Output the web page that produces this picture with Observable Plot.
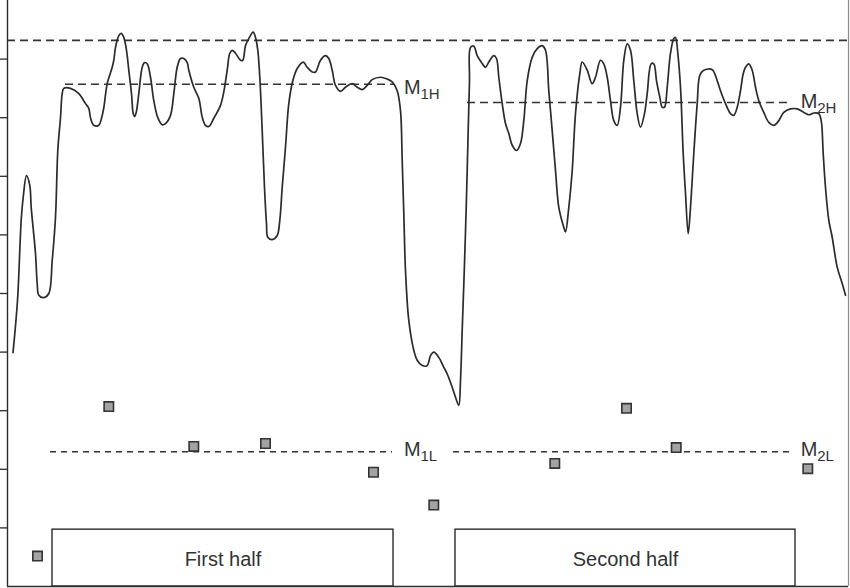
<!DOCTYPE html>
<html><head><meta charset="utf-8">
<script src="https://cdn.jsdelivr.net/npm/d3@7"></script>
<script src="https://cdn.jsdelivr.net/npm/@observablehq/plot@0.6"></script>
<style>body{margin:0;background:#fff}</style>
</head><body><div id="chart"></div>
<script>
// ---- data (time in arbitrary frames, level in axis units 0–10) ----
const curveTime = [
  5.5,10,13.7,15.7,19,22.3,23.7,28,29.7,31.3,
  36.3,41.3,44.7,48,50.3,53,54.7,56.3,63,71.3,
  78,81.3,83,86.3,91.3,94,96.3,99.7,104.7,106.3,
  108,111.3,113.7,116.3,119,121.3,124,125.7,127,128.7,
  131.3,134.7,137,139.7,143,146.3,150.3,154.7,158,163,
  166.3,169.7,173,176.3,179.7,181.3,186.3,191.3,194.7,198,
  201.3,206.3,213,216.3,219.7,222.3,224.7,228,233,235.3,
  238,241.3,245.7,248,250.3,252.3,254.7,257,259,260.3,
  264.7,269.7,272.3,274.7,278,281.3,285.3,289.7,295.7,299.7,
  304.7,308,313,318,321.3,324.7,328,333,338,344.7,
  349.7,354.7,359.7,364.7,373,379.7,384.7,389.7,393,394.7,
  396.3,398,401.3,406.3,409.7,414.7,419.7,423,426.3,431.3,
  436.3,439.7,444.7,448,451.3,453,454.7,457,459,460.7,
  462,463,466.3,469.7,473.7,478,481.3,486.3,489,491.3,
  494.7,498,501.3,504.7,509,513,516.3,519.7,524.7,529.7,
  534.7,538,541.3,544.7,548,551.3,556.3,558,561.3,564.7,
  568,572.3,574.7,579.7,584.7,588,593,596.3,599.7,603,
  606.3,609.7,613,616.3,619.7,623,626.3,629.7,633,637,
  639.7,643.7,646.3,649,652.3,654.7,657,659.7,663,666.3,
  668,670.3,673,675.7,678,680.7,683,686.3,689.7,692.3,
  696.3,704.7,709.7,713,718,723,726.3,729.7,733,735.7,
  738,741.3,744.7,748,751.3,756.3,761.3,766.3,771.3,776.3,
  783,789.7,796.3,801.3,806.3,811.3,813.7,815.7,818,821.3,
  824.7,829.7,834.7,838
];
const curveLevel = [
  3.99,4.88,6.25,6.64,7.01,6.84,6.47,5.68,5.17,4.97,
  4.93,5.00,5.56,6.30,7.44,8.00,8.41,8.50,8.50,8.41,
  8.24,8.16,8.00,7.87,7.87,7.99,8.17,8.58,8.86,8.98,
  9.20,9.40,9.44,9.37,9.15,8.81,8.41,8.07,8.02,8.09,
  8.41,8.86,8.94,8.92,8.69,8.29,8.00,7.88,7.90,8.04,
  8.41,8.86,9.01,9.01,8.94,8.81,8.52,8.33,8.01,7.87,
  7.85,7.99,8.21,8.44,8.81,9.10,9.15,9.10,8.98,8.98,
  9.23,9.35,9.46,9.37,9.15,8.69,7.78,6.81,6.19,5.96,
  5.92,5.99,6.25,6.81,7.50,8.24,8.63,8.84,8.95,8.86,
  8.78,8.78,8.98,9.06,9.01,8.81,8.55,8.45,8.52,8.58,
  8.52,8.48,8.55,8.65,8.69,8.66,8.61,8.46,8.12,7.27,
  6.37,5.39,4.54,4.03,3.86,3.77,3.77,3.94,4.00,3.91,
  3.74,3.63,3.40,3.23,3.09,3.52,4.37,5.51,6.64,7.78,
  8.63,9.20,9.22,9.06,8.95,8.86,8.95,9.06,9.01,8.69,
  8.24,7.90,7.73,7.53,7.44,7.56,7.95,8.63,9.03,9.18,
  9.23,9.15,8.46,7.78,7.10,6.47,6.13,6.05,6.47,7.10,
  8.07,8.75,8.95,8.81,8.58,8.69,8.98,8.92,8.69,8.29,
  7.95,7.87,8.18,8.98,9.26,9.15,8.63,8.07,7.84,8.07,
  8.41,8.92,8.92,8.63,8.35,8.18,8.18,8.52,9.10,9.35,
  9.37,9.10,8.52,7.39,6.71,6.02,6.47,7.39,8.24,8.72,
  8.81,8.82,8.63,8.46,8.24,8.07,8.04,8.18,8.46,8.75,
  8.86,8.92,8.81,8.52,8.29,8.09,7.92,7.87,7.95,8.09,
  8.15,8.15,8.09,8.05,8.08,8.07,7.95,7.39,6.81,6.25,
  5.96,5.45,5.17,4.97
];

// square markers
const dotTime  = [30, 101.3, 186.3, 258, 366, 426.3, 547.3, 619, 668.7, 800.3];
const dotLevel = [0.52, 3.07, 2.39, 2.44, 1.95, 1.39, 2.10, 3.04, 2.37, 2.01];

// dashed reference levels
const refName  = ["max", "M1H", "M2H", "M1L", "M2L"];
const refLevel = [9.32, 8.57, 8.26, 2.30, 2.30];
const refStart = [0, 58, 460, 43, 446];
const refEnd   = [841, 386, 785, 385, 785];

// labels of the mean levels
const labelMain  = ["M", "M", "M", "M"];
const labelSub   = ["1H", "2H", "1L", "2L"];
const labelTime  = [396.5, 793.2, 396.5, 793.2];
const labelLevel = [8.41, 8.17, 2.22, 2.22];

// half boxes
const boxName  = ["First half", "Second half"];
const boxStart = [45, 448];
const boxEnd   = [386, 788];
const boxTop   = [0.97, 0.97];
const boxTextLevel = [0.35, 0.35];

const yTicks = [1, 2, 3, 4, 5, 6, 7, 8, 9];

// ---- tables ----
const curve  = curveTime.map((t, i) => ({t, v: curveLevel[i]}));
const dots   = dotTime.map((t, i) => ({t, v: dotLevel[i]}));
const refs   = refName.map((n, i) => ({n, v: refLevel[i], s: refStart[i], e: refEnd[i]}));
const labels = labelSub.map((s, i) => ({m: labelMain[i], s, t: labelTime[i], v: labelLevel[i]}));
const boxes  = boxName.map((n, i) => ({n, s: boxStart[i], e: boxEnd[i], top: boxTop[i], c: (boxStart[i] + boxEnd[i]) / 2, tv: boxTextLevel[i]}));

const ink = "#2b2b2b";

const chart = Plot.plot({
  width: 850, height: 588,
  marginLeft: 7, marginRight: 2, marginTop: 0, marginBottom: 2,
  style: {fontFamily: "'Liberation Sans', Arial, sans-serif", background: "#fff", overflow: "visible", color: ink},
  x: {domain: [0, 841], axis: null},
  y: {domain: [0, 10]},
  marks: [
    Plot.axisY({ticks: yTicks, tickSize: 7, tickFormat: () => "", label: null, anchor: "left", stroke: ink, strokeWidth: 1.3}),
    Plot.rect(boxes, {x1: "s", x2: "e", y1: 0, y2: "top", fill: "none", stroke: ink, strokeWidth: 1.4}),
    Plot.text(boxes, {x: "c", y: "tv", text: "n", fontSize: 20, lineAnchor: "bottom", fill: "#333"}),
    Plot.ruleX([841], {stroke: "#8a8a8a", strokeWidth: 1.2}),
    Plot.ruleX([0], {stroke: ink, strokeWidth: 1.4}),
    Plot.ruleY([0], {stroke: ink, strokeWidth: 1.4}),
    Plot.ruleY(refs.filter(d => d.v > 5), {y: "v", x1: "s", x2: "e", stroke: "#333", strokeWidth: 1.6, strokeDasharray: "8,5"}),
    Plot.ruleY(refs.filter(d => d.v < 5), {y: "v", x1: "s", x2: "e", stroke: "#333", strokeWidth: 1.4, strokeDasharray: "6,5"}),
    Plot.line(curve, {x: "t", y: "v", stroke: ink, strokeWidth: 1.7, curve: "catmull-rom"}),
    Plot.dot(dots, {x: "t", y: "v", symbol: "square", r: 5.3, fill: "#a3a3a3", stroke: "#333", strokeWidth: 1.6}),
    Plot.text(labels, {x: "t", y: "v", text: "m", fontSize: 20, textAnchor: "start", lineAnchor: "bottom", fill: "#333"}),
    Plot.text(labels, {x: "t", y: "v", text: "s", fontSize: 15, dx: 16.5, dy: 5, textAnchor: "start", lineAnchor: "bottom", fill: "#333"})
  ]
});
document.getElementById("chart").appendChild(chart);
</script>
</body></html>
